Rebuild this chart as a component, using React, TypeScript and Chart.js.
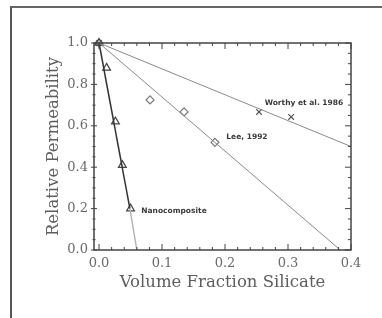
import React, { useEffect, useRef } from "react";
import { Chart, registerables } from "chart.js";

Chart.register(...registerables);

// ---- data ----
const xTickValues = [0, 0.1, 0.2, 0.3, 0.4];
const yTickValues = [0, 0.2, 0.4, 0.6, 0.8, 1.0];
const xMinorValues = [0.02, 0.04, 0.06, 0.08, 0.12, 0.14, 0.16, 0.18, 0.22, 0.24, 0.26, 0.28, 0.32, 0.34, 0.36, 0.38];
const yMinorValues = [0.05, 0.1, 0.15, 0.25, 0.3, 0.35, 0.45, 0.5, 0.55, 0.65, 0.7, 0.75, 0.85, 0.9, 0.95];

const xAxisTitle = "Volume Fraction Silicate";
const yAxisTitle = "Relative Permeability";

// Nanocomposite (triangles) and its fitted line
const nanoX = [0, 0.012, 0.026, 0.037, 0.05];
const nanoY = [1.0, 0.88, 0.62, 0.41, 0.2];
const nanoFitX = [0, 0.049, 0.06];
const nanoFitY = [1.0, 0.2, 0.0];

// Lee, 1992 (diamonds) and its line
const leeX = [0, 0.081, 0.135, 0.184];
const leeY = [1.0, 0.725, 0.667, 0.52];
const leeFitX = [0, 0.383];
const leeFitY = [1.0, 0.0];

// Worthy et al. 1986 (crosses) and its line
const worthyX = [0, 0.254, 0.305];
const worthyY = [1.0, 0.667, 0.643];
const worthyFitX = [0, 0.4];
const worthyFitY = [1.0, 0.5];

// series labels (anchored in data units)
const labelTexts = ["Worthy et al. 1986", "Lee, 1992", "Nanocomposite"];
const labelX = [0.263, 0.202, 0.067];
const labelY = [0.71, 0.545, 0.19];

const pts = (xs: number[], ys: number[]) => xs.map((x, i) => ({ x, y: ys[i] }));

const framePlugin = {
  id: "frameTicks",
  afterDraw(chart: any) {
    const { ctx, chartArea: a, scales } = chart;
    const xs = scales.x;
    const ys = scales.y;
    ctx.save();
    ctx.strokeStyle = "#444";
    ctx.lineWidth = 1.5;
    ctx.strokeRect(a.left, a.top, a.right - a.left, a.bottom - a.top);
    ctx.lineWidth = 1;
    const xt = (v: number, len: number) => {
      const p = xs.getPixelForValue(v);
      ctx.beginPath();
      ctx.moveTo(p, a.bottom);
      ctx.lineTo(p, a.bottom - len);
      ctx.moveTo(p, a.top);
      ctx.lineTo(p, a.top + len);
      ctx.stroke();
    };
    const yt = (v: number, len: number) => {
      const p = ys.getPixelForValue(v);
      ctx.beginPath();
      ctx.moveTo(a.left - len / 2, p);
      ctx.lineTo(a.left + len / 2, p);
      ctx.moveTo(a.right, p);
      ctx.lineTo(a.right - len, p);
      ctx.stroke();
    };
    xTickValues.forEach((v) => xt(v, 6));
    xMinorValues.forEach((v) => xt(v, 3));
    yTickValues.forEach((v) => yt(v, 6));
    yMinorValues.forEach((v) => yt(v, 3));

    ctx.fillStyle = "#3a3a3a";
    ctx.font = 'bold 7.5px "DejaVu Sans"';
    ctx.textBaseline = "middle";
    ctx.textAlign = "left";
    labelTexts.forEach((t, i) => {
      ctx.fillText(t, xs.getPixelForValue(labelX[i]), ys.getPixelForValue(labelY[i]));
    });
    ctx.restore();
  },
};

export default function App() {
  const ref = useRef<HTMLCanvasElement | null>(null);

  useEffect(() => {
    if (!ref.current) return;
    const chart = new Chart(ref.current, {
      type: "scatter",
      data: {
        datasets: [
          {
            type: "line",
            data: pts(worthyFitX, worthyFitY),
            borderColor: "#8a8a8a",
            borderWidth: 1,
            pointRadius: 0,
            clip: false,
          } as any,
          {
            type: "line",
            data: pts(leeFitX, leeFitY),
            borderColor: "#8a8a8a",
            borderWidth: 1,
            pointRadius: 0,
            clip: false,
          } as any,
          {
            type: "line",
            data: pts(nanoFitX, nanoFitY),
            borderColor: "#333",
            borderWidth: 1.5,
            pointRadius: 0,
            clip: false,
            segment: {
              borderColor: (c: any) => (c.p0DataIndex === 1 ? "#b5b5b5" : "#333"),
            },
          } as any,
          {
            data: pts(nanoX, nanoY),
            pointStyle: "triangle",
            pointRadius: 4.5,
            borderColor: "#444",
            backgroundColor: "rgba(0,0,0,0)",
            borderWidth: 1.2,
            clip: false,
          } as any,
          {
            data: pts(leeX, leeY),
            pointStyle: "rectRot",
            pointRadius: 4,
            borderColor: "#777",
            backgroundColor: "rgba(0,0,0,0)",
            borderWidth: 1.2,
            clip: false,
          } as any,
          {
            data: pts(worthyX, worthyY),
            pointStyle: "crossRot",
            pointRadius: 4,
            borderColor: "#555",
            borderWidth: 1.2,
            clip: false,
          } as any,
        ],
      },
      options: {
        responsive: false,
        animation: false,
        devicePixelRatio: 1,
        layout: { padding: { left: 0, top: 43, right: 31, bottom: 0 } },
        plugins: { legend: { display: false }, tooltip: { enabled: false } },
        scales: {
          x: {
            type: "linear",
            min: -0.008,
            max: 0.4,
            afterBuildTicks: (s: any) => {
              s.ticks = xTickValues.map((v) => ({ value: v }));
            },
            afterFit: (s: any) => {
              s.height = 68;
            },
            grid: { display: false, drawTicks: false },
            border: { display: false },
            ticks: {
              padding: 6,
              color: "#6a6a6a",
              font: { family: '"DejaVu Serif"', size: 13 },
              callback: (v: any) => Number(v).toFixed(1),
            },
            title: {
              display: true,
              text: xAxisTitle,
              color: "#5e5e5e",
              font: { family: '"DejaVu Serif"', size: 16.5, lineHeight: 1 },
              padding: { top: 0, bottom: 27 },
            },
          },
          y: {
            type: "linear",
            min: 0,
            max: 1,
            afterBuildTicks: (s: any) => {
              s.ticks = yTickValues.map((v) => ({ value: v }));
            },
            afterFit: (s: any) => {
              s.width = 94;
            },
            grid: { display: false, drawTicks: false },
            border: { display: false },
            ticks: {
              padding: 6,
              color: "#6a6a6a",
              font: { family: '"DejaVu Serif"', size: 13 },
              callback: (v: any) => Number(v).toFixed(1),
            },
            title: {
              display: true,
              text: yAxisTitle,
              color: "#5e5e5e",
              font: { family: '"DejaVu Serif"', size: 16.5, lineHeight: 1 },
              padding: { top: 45, bottom: 0 },
            },
          },
        },
      } as any,
      plugins: [framePlugin],
    });
    return () => chart.destroy();
  }, []);

  return (
    <div style={{ position: "fixed", left: 0, top: 0, width: 382, height: 318, background: "#fff", overflow: "hidden" }}>
      <div
        style={{
          position: "absolute",
          left: 10,
          top: 6,
          width: 400,
          height: 340,
          borderLeft: "2px solid #555",
          borderTop: "2px solid #666",
        }}
      />
      <canvas ref={ref} width={382} height={318} style={{ position: "absolute", left: 0, top: 0, width: 382, height: 318 }} />
    </div>
  );
}
